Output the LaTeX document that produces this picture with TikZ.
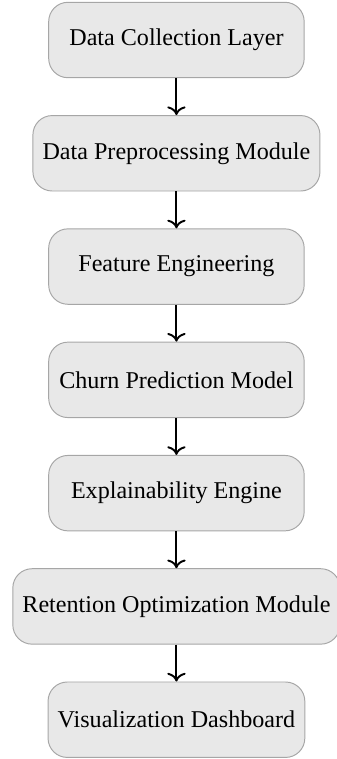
\documentclass[tikz,border=0pt]{standalone}
\usepackage{fontspec}
\setmainfont{Liberation Serif}
\usetikzlibrary{arrows.meta}
\begin{document}
\begin{tikzpicture}[x=1pt,y=1pt,
  stage/.style={draw=gray!70, line width=0.4pt, fill=gray!18, rounded corners=8pt,
    minimum width=106pt, minimum height=31.3pt, inner xsep=4pt, font=\fontsize{10}{12}\selectfont},
  flow/.style={line width=0.8pt, -{Computer Modern Rightarrow[width=7.6pt,length=3.6pt]}}]
  \useasboundingbox (0,0) rectangle (139.4,-314.9);
  \node[stage] (n1) at (73.2,-16.6) {Data Collection Layer};
  \node[stage] (n2) at (73.2,-63.6) {Data Preprocessing Module};
  \node[stage] (n3) at (73.2,-110.6) {Feature Engineering};
  \node[stage] (n4) at (73.2,-157.6) {Churn Prediction Model};
  \node[stage] (n5) at (73.2,-204.6) {Explainability Engine};
  \node[stage] (n6) at (73.2,-251.6) {Retention Optimization Module};
  \node[stage] (n7) at (73.2,-298.6) {Visualization Dashboard};
  \foreach \a/\b in {n1/n2,n2/n3,n3/n4,n4/n5,n5/n6,n6/n7}
    \draw[flow] (\a) -- (\b);
\end{tikzpicture}
\end{document}
